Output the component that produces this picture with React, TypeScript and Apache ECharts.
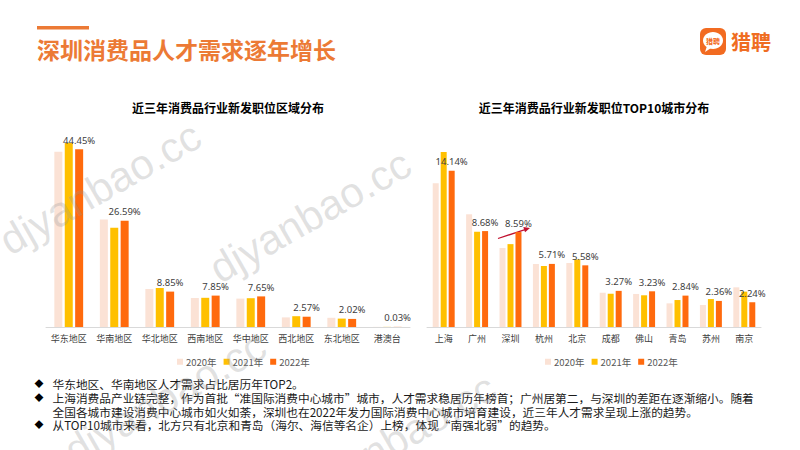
import React, { useEffect, useRef } from "react";
import * as echarts from "echarts";

const years = ["2020年", "2021年", "2022年"];
const regions = ["华东地区", "华南地区", "华北地区", "西南地区", "华中地区", "西北地区", "东北地区", "港澳台"];
const region2020 = [43.8, 26.9, 9.5, 7.25, 7.1, 2.4, 2.3, 0.03];
const region2021 = [46.0, 24.8, 9.75, 7.3, 7.2, 2.7, 2.1, 0.03];
const region2022 = [44.45, 26.59, 8.85, 7.85, 7.65, 2.57, 2.02, 0.03];
const cities = ["上海", "广州", "深圳", "杭州", "北京", "成都", "佛山", "青岛", "苏州", "南京"];
const city2020 = [13.0, 10.2, 7.15, 5.7, 5.79, 3.1, 2.99, 2.14, 1.99, 3.59];
const city2021 = [15.84, 8.62, 7.5, 5.52, 6.12, 3.01, 2.87, 2.44, 2.53, 3.2];
const city2022 = [14.14, 8.68, 8.59, 5.71, 5.58, 3.27, 3.23, 2.84, 2.36, 2.24];
const colors = ["#FBE2D5", "#FFC000", "#FF6A0D"];

const mainTitle = "深圳消费品人才需求逐年增长";
const leftTitle = "近三年消费品行业新发职位区域分布";
const rightTitle = "近三年消费品行业新发职位TOP10城市分布";
const bulletLines = [
  { bullet: true, text: "华东地区、华南地区人才需求占比居历年TOP2。" },
  { bullet: true, text: "上海消费品产业链完整，作为首批“准国际消费中心城市”城市，人才需求稳居历年榜首；广州居第二，与深圳的差距在逐渐缩小。随着" },
  { bullet: false, text: "全国各城市建设消费中心城市如火如荼，深圳也在2022年发力国际消费中心城市培育建设，近三年人才需求呈现上涨的趋势。" },
  { bullet: true, text: "从TOP10城市来看，北方只有北京和青岛（海尔、海信等名企）上榜，体现“南强北弱”的趋势。" },
];
const watermarks = [
  { x: 100, y: 188 },
  { x: 310, y: 216 },
  { x: 165, y: 398 },
  { x: 395, y: 440 },
];

const FONT = '"Noto Sans CJK SC", "Noto Sans", sans-serif';
const ORANGE = "#EC7A35";

export default function App() {
  const ref = useRef<HTMLDivElement>(null);
  useEffect(() => {
    if (!ref.current) return;
    const chart = echarts.init(ref.current, undefined, { renderer: "svg" });
    const label = {
      show: true,
      position: "top",
      distance: 4,
      fontSize: 9.5,
      color: "#404040",
      fontFamily: '"Noto Sans", sans-serif',
      formatter: (p: any) => Number(p.value).toFixed(2) + "%",
    };
    const mk = (name: string, data: number[], idx: number, color: string, withLabel: boolean, bw: number) => ({
      type: "bar",
      name,
      data,
      xAxisIndex: idx,
      yAxisIndex: idx,
      barWidth: bw,
      barGap: idx === 0 ? "30%" : "33%",
      itemStyle: { color },
      label: withLabel ? label : { show: false },
    });
    const series: any[] = [
      mk(years[0], region2020, 0, colors[0], false, 8),
      mk(years[1], region2021, 0, colors[1], false, 8),
      mk(years[2], region2022, 0, colors[2], true, 8),
      mk(years[0], city2020, 1, colors[0], false, 6),
      mk(years[1], city2021, 1, colors[1], false, 6),
      mk(years[2], city2022, 1, colors[2], true, 6),
    ];
    const xAx = (data: string[], gridIndex: number) => ({
      type: "category",
      data,
      gridIndex,
      axisLine: { lineStyle: { color: "#D9D9D9" } },
      axisTick: { show: false },
      axisLabel: { fontSize: 9, color: "#404040", margin: 7, interval: 0 },
    });
    const graphics: any[] = [];
    watermarks.forEach((w) =>
      graphics.push({
        type: "text",
        x: w.x,
        y: w.y,
        rotation: 0.52,
        z: 100,
        silent: true,
        style: {
          text: "djyanbao.cc",
          fontSize: 42,
          fontFamily: '"Liberation Sans", Arial, sans-serif',
          fill: "rgba(150,150,150,0.28)",
          textAlign: "center",
          textVerticalAlign: "middle",
        },
      })
    );
    graphics.push(
      { type: "rect", shape: { x: 37, y: 26, width: 52, height: 3.5 }, style: { fill: ORANGE } },
      {
        type: "text",
        x: 37,
        y: 49,
        style: { text: mainTitle, fontSize: 23, fontWeight: "bold", fill: ORANGE, fontFamily: FONT, textVerticalAlign: "middle" },
      },
      { type: "rect", shape: { x: 700, y: 28, width: 26, height: 27, r: 6 }, style: { fill: "#F26B21" } },
      { type: "ellipse", shape: { cx: 713, cy: 40.5, rx: 10, ry: 8.5 }, style: { fill: "#ffffff" } },
      { type: "polygon", shape: { points: [[707, 46], [711, 48], [705, 52]] }, style: { fill: "#ffffff" } },
      {
        type: "text",
        x: 713,
        y: 41,
        style: { text: "猎聘", fontSize: 7, fontWeight: "bold", fill: "#F26B21", fontFamily: FONT, textAlign: "center", textVerticalAlign: "middle" },
      },
      {
        type: "text",
        x: 731,
        y: 41,
        style: { text: "猎聘", fontSize: 20, fontWeight: "bold", fill: "#EF6D22", fontFamily: FONT, textVerticalAlign: "middle" },
      },
      {
        type: "text",
        x: 228,
        y: 107,
        style: { text: leftTitle, fontSize: 12, fontWeight: "bold", fill: "#000", fontFamily: FONT, textAlign: "center", textVerticalAlign: "middle" },
      },
      {
        type: "text",
        x: 594,
        y: 107,
        style: { text: rightTitle, fontSize: 12, fontWeight: "bold", fill: "#000", fontFamily: FONT, textAlign: "center", textVerticalAlign: "middle" },
      },
      { type: "line", shape: { x1: 498, y1: 238.5, x2: 525, y2: 229.6 }, style: { stroke: "#C0102E", lineWidth: 1.3 } },
      {
        type: "polygon",
        shape: { points: [[530, 228], [523.3, 227], [525, 232.3]] },
        style: { fill: "#C0102E" },
      }
    );
    const ys = [383.5, 397.3, 411.2, 424.8];
    bulletLines.forEach((l, i) => {
      if (l.bullet)
        graphics.push({
          type: "text",
          x: 39,
          y: ys[i],
          style: { text: "◆", fontSize: 9, fill: "#000", fontFamily: FONT, textAlign: "center", textVerticalAlign: "middle" },
        });
      graphics.push({
        type: "text",
        x: 52.5,
        y: ys[i],
        style: { text: l.text, fontSize: 11.7, lineHeight: 13, fill: "#1a1a1a", fontFamily: FONT, textVerticalAlign: "middle" },
      });
    });
    const legend = (left: number) => ({
      left,
      top: 352,
      data: years,
      icon: "rect",
      itemWidth: 6,
      itemHeight: 6,
      itemGap: 7,
      selectedMode: false,
      textStyle: { fontSize: 9.5, color: "#595959", padding: [0, 0, 0, -2] },
    });
    chart.setOption({
      animation: false,
      textStyle: { fontFamily: FONT },
      grid: [
        { left: 46, top: 127, width: 364, height: 200 },
        { left: 427, top: 150.2, width: 334, height: 176.8 },
      ],
      xAxis: [xAx(regions, 0), xAx(cities, 1)],
      yAxis: [
        { type: "value", gridIndex: 0, min: 0, max: 50, show: false, splitLine: { show: false } },
        { type: "value", gridIndex: 1, min: 0, max: 16, show: false, splitLine: { show: false } },
      ],
      legend: [legend(172), legend(540)],
      series,
      graphic: graphics,
    });
    return () => chart.dispose();
  }, []);
  return (
    <div
      ref={ref}
      style={{ position: "fixed", left: 0, top: 0, width: 800, height: 450, background: "#ffffff" }}
    />
  );
}
